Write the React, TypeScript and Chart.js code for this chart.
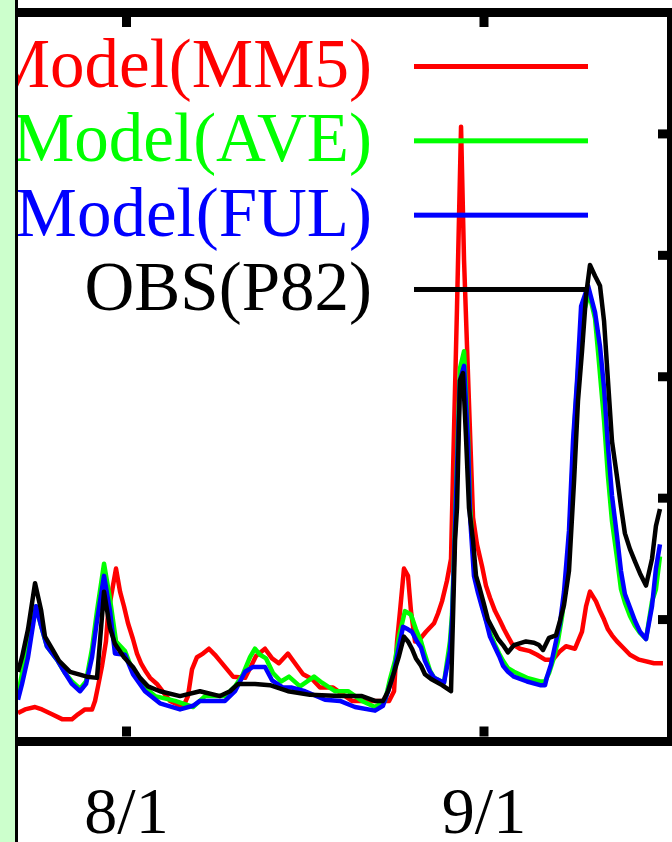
import React, { useEffect, useRef } from "react";
import { Chart, registerables } from "chart.js";

Chart.register(...registerables);

// x values are days counted from 8/1 (0 = 8/1, 31 = 9/1)
const tickDays = [0, 31];
const tickLabels = ["8/1", "9/1"];
const seriesNames = ["Model(MM5)", "Model(AVE)", "Model(FUL)", "OBS(P82)"];

const mm5Days = [-9.41, -8.8, -7.93, -7.33, -6.46, -5.59, -4.73, -4.21, -3.6, -2.99, -2.73, -2.47, -2.12, -1.78, -1.6, -1.34, -0.91, -0.56, -0.22, 0.13, 0.56, 0.91, 1.26, 1.69, 2.04, 2.64, 3.77, 4.9, 5.33, 5.68, 6.11, 6.63, 7.15, 7.67, 8.11, 8.54, 9.24, 10.28, 10.71, 11.23, 12.01, 12.62, 13.22, 14.0, 14.61, 15.31, 16.09, 16.78, 17.91, 19.55, 21.11, 22.77, 23.2, 23.46, 23.72, 24.06, 24.41, 24.67, 25.02, 25.45, 25.97, 26.67, 27.01, 27.36, 27.79, 28.14, 28.31, 28.66, 29.01, 29.27, 29.7, 30.05, 30.39, 30.83, 31.17, 31.52, 31.96, 32.39, 32.74, 33.08, 33.43, 34.12, 34.99, 35.6, 36.29, 36.98, 37.59, 38.11, 38.89, 39.5, 39.85, 40.19, 40.71, 41.06, 41.41, 41.75, 42.1, 42.53, 43.05, 43.66, 44.44, 45.74, 46.52];
const mm5Values = [0.23, 0.26, 0.28, 0.26, 0.22, 0.18, 0.18, 0.22, 0.26, 0.26, 0.33, 0.45, 0.62, 0.82, 1.05, 1.19, 1.42, 1.23, 1.11, 0.97, 0.84, 0.72, 0.64, 0.57, 0.52, 0.47, 0.33, 0.28, 0.37, 0.59, 0.69, 0.72, 0.76, 0.71, 0.66, 0.61, 0.53, 0.52, 0.6, 0.7, 0.76, 0.68, 0.64, 0.72, 0.64, 0.55, 0.51, 0.44, 0.44, 0.33, 0.33, 0.33, 0.41, 0.82, 1.07, 1.42, 1.36, 1.07, 0.82, 0.84, 0.9, 0.97, 1.05, 1.15, 1.32, 1.5, 2.2, 3.57, 5.06, 3.96, 2.78, 1.84, 1.62, 1.44, 1.28, 1.18, 1.07, 0.99, 0.92, 0.86, 0.8, 0.76, 0.74, 0.71, 0.67, 0.67, 0.74, 0.78, 0.76, 0.9, 1.11, 1.23, 1.15, 1.07, 1.0, 0.92, 0.87, 0.82, 0.77, 0.71, 0.67, 0.64, 0.64];

const aveDays = [-9.41, -9.06, -8.54, -7.85, -7.41, -6.9, -6.03, -5.33, -4.73, -4.03, -3.51, -2.99, -2.56, -1.95, -1.43, -0.91, -0.13, 0.56, 1.6, 2.47, 4.21, 5.77, 6.81, 8.54, 9.41, 10.1, 10.71, 11.14, 11.58, 12.1, 12.7, 13.4, 14.09, 15.05, 16.26, 16.95, 18.08, 19.21, 20.42, 21.55, 22.42, 22.85, 23.28, 23.63, 24.15, 24.67, 25.1, 25.54, 25.88, 26.32, 26.67, 27.53, 28.05, 28.23, 28.57, 28.92, 29.27, 29.61, 29.79, 30.13, 30.48, 30.83, 31.17, 31.52, 31.96, 32.31, 32.65, 33.08, 33.6, 34.73, 35.86, 36.29, 36.64, 36.98, 37.41, 37.76, 38.11, 38.46, 38.81, 39.15, 39.5, 40.11, 40.63, 40.97, 41.41, 41.75, 42.1, 42.53, 42.88, 43.22, 43.66, 44.09, 44.53, 45.05, 45.57, 45.91, 46.26];
const aveValues = [0.37, 0.56, 0.82, 1.11, 0.95, 0.78, 0.67, 0.56, 0.49, 0.43, 0.49, 0.76, 1.07, 1.46, 1.17, 0.82, 0.74, 0.57, 0.44, 0.37, 0.33, 0.28, 0.37, 0.37, 0.45, 0.55, 0.69, 0.76, 0.71, 0.68, 0.56, 0.49, 0.53, 0.45, 0.53, 0.48, 0.41, 0.41, 0.33, 0.28, 0.33, 0.51, 0.66, 0.86, 1.07, 1.04, 0.92, 0.82, 0.71, 0.58, 0.52, 0.48, 0.82, 1.05, 2.06, 3.07, 3.21, 2.54, 1.94, 1.44, 1.25, 1.12, 1.0, 0.89, 0.79, 0.72, 0.66, 0.6, 0.57, 0.52, 0.49, 0.49, 0.56, 0.66, 0.82, 1.02, 1.28, 1.81, 2.55, 3.05, 3.48, 3.69, 3.48, 3.12, 2.64, 2.18, 1.81, 1.51, 1.25, 1.14, 1.03, 0.95, 0.89, 0.84, 1.15, 1.25, 1.52];

const fulDays = [-9.41, -9.06, -8.54, -7.85, -7.41, -6.9, -6.03, -5.33, -4.73, -4.03, -3.51, -2.99, -2.56, -1.95, -1.43, -1.0, -0.13, 0.56, 1.6, 2.9, 4.64, 5.77, 6.37, 8.54, 9.41, 10.28, 10.97, 12.01, 12.62, 13.57, 14.35, 15.48, 17.21, 18.51, 19.81, 21.55, 22.24, 22.68, 23.2, 23.63, 23.98, 24.41, 24.75, 25.19, 25.54, 25.88, 26.32, 26.67, 27.53, 28.05, 28.23, 28.57, 28.92, 29.27, 29.61, 29.79, 30.13, 30.48, 30.83, 31.17, 31.52, 31.96, 32.31, 32.65, 33.08, 33.6, 34.73, 35.86, 36.29, 36.47, 36.81, 37.24, 37.59, 37.94, 38.37, 38.72, 39.07, 39.42, 40.02, 40.63, 41.06, 41.41, 41.75, 42.1, 42.53, 42.88, 43.22, 43.66, 44.09, 44.53, 45.05, 45.57, 45.91, 46.26];
const fulValues = [0.34, 0.47, 0.69, 1.11, 0.95, 0.78, 0.67, 0.56, 0.47, 0.41, 0.47, 0.69, 0.99, 1.36, 1.07, 0.72, 0.71, 0.55, 0.41, 0.31, 0.26, 0.29, 0.33, 0.33, 0.41, 0.57, 0.61, 0.61, 0.5, 0.44, 0.44, 0.41, 0.34, 0.33, 0.28, 0.25, 0.29, 0.41, 0.57, 0.78, 0.94, 0.92, 0.9, 0.82, 0.77, 0.66, 0.57, 0.52, 0.48, 0.74, 0.99, 1.98, 2.97, 3.09, 2.46, 1.85, 1.36, 1.22, 1.1, 0.99, 0.86, 0.77, 0.7, 0.62, 0.57, 0.53, 0.49, 0.46, 0.46, 0.53, 0.63, 0.82, 0.97, 1.23, 1.73, 2.47, 2.97, 3.58, 3.75, 3.53, 3.25, 2.91, 2.43, 2.02, 1.69, 1.4, 1.21, 1.1, 0.99, 0.9, 0.84, 1.11, 1.42, 1.62];

const obsDays = [-9.41, -9.06, -8.54, -7.93, -7.41, -7.07, -6.46, -5.85, -4.9, -3.43, -2.56, -2.3, -1.95, -1.43, -1.0, -0.22, 0.56, 1.17, 1.86, 2.9, 4.64, 6.37, 8.11, 8.98, 9.67, 11.14, 12.44, 14.0, 15.91, 18.51, 20.42, 21.55, 22.24, 22.68, 23.02, 23.63, 24.06, 24.41, 24.75, 25.1, 25.54, 25.88, 26.41, 27.36, 28.14, 28.49, 28.66, 28.92, 29.18, 29.44, 29.7, 30.05, 30.31, 30.65, 30.99, 31.34, 31.78, 32.22, 32.65, 33.08, 33.6, 34.64, 35.34, 35.77, 36.12, 36.64, 37.24, 37.59, 37.94, 38.37, 38.81, 39.15, 39.5, 39.85, 40.19, 40.63, 41.06, 41.41, 41.75, 42.1, 42.53, 42.88, 43.22, 43.66, 44.09, 44.53, 45.05, 45.57, 45.91, 46.26];
const obsValues = [0.57, 0.69, 0.92, 1.3, 1.08, 0.86, 0.76, 0.66, 0.57, 0.53, 0.52, 0.82, 1.23, 0.93, 0.8, 0.69, 0.61, 0.52, 0.45, 0.41, 0.37, 0.41, 0.37, 0.41, 0.47, 0.47, 0.46, 0.41, 0.38, 0.37, 0.37, 0.33, 0.33, 0.41, 0.51, 0.7, 0.86, 0.82, 0.76, 0.68, 0.62, 0.55, 0.51, 0.46, 0.41, 1.65, 1.92, 2.97, 3.03, 2.5, 1.92, 1.65, 1.36, 1.25, 1.13, 1.0, 0.92, 0.84, 0.79, 0.73, 0.79, 0.82, 0.81, 0.79, 0.75, 0.85, 0.87, 0.99, 1.12, 1.4, 2.14, 2.8, 3.21, 3.67, 3.92, 3.83, 3.75, 3.46, 2.97, 2.47, 2.18, 1.93, 1.71, 1.58, 1.48, 1.38, 1.28, 1.5, 1.77, 1.91];

const xMin = -10.97;
const xMax = 47.26;
const yMin = 0;
const yMax = 6;

function pairs(days: number[], values: number[]) {
  const n = Math.min(days.length, values.length);
  const out: { x: number; y: number }[] = [];
  for (let i = 0; i < n; i++) out.push({ x: days[i], y: values[i] });
  return out;
}

const FRAME = 9;
const TICK_LEN = 10;

const innerTicksPlugin = {
  id: "innerTicks",
  afterDraw(chart: any) {
    const { ctx, chartArea, scales } = chart;
    ctx.save();
    ctx.fillStyle = "#000";
    const xs = scales.x;
    xs.ticks.forEach((t: any) => {
      const px = xs.getPixelForValue(t.value);
      ctx.fillRect(px - FRAME / 2, chartArea.bottom - FRAME / 2 - TICK_LEN, FRAME, TICK_LEN);
      ctx.fillRect(px - FRAME / 2, chartArea.top + FRAME / 2, FRAME, TICK_LEN);
    });
    const ys = scales.y;
    ys.ticks.forEach((t: any) => {
      if (t.value <= yMin || t.value >= yMax) return;
      const py = ys.getPixelForValue(t.value);
      ctx.fillRect(chartArea.right - FRAME / 2 - 9, py - FRAME / 2, 9, FRAME);
    });
    ctx.restore();
  },
};

const insetLegendPlugin = {
  id: "insetLegend",
  afterDraw(chart: any) {
    const ctx = chart.ctx;
    ctx.save();
    ctx.font = '69px "Liberation Serif"';
    ctx.textAlign = "right";
    ctx.textBaseline = "alphabetic";
    chart.data.datasets.forEach((ds: any, i: number) => {
      const base = 87 + i * 74.33;
      ctx.fillStyle = ds.borderColor;
      ctx.fillText(ds.label, 372, base);
      ctx.fillRect(414, base - 23, 174, 5);
    });
    ctx.restore();
  },
};

export default function App() {
  const ref = useRef<HTMLCanvasElement | null>(null);

  useEffect(() => {
    if (!ref.current) return;
    const lineStyle = {
      borderWidth: 4.5,
      pointRadius: 0,
      tension: 0,
      fill: false,
      borderJoinStyle: "round" as const,
    };
    const chart = new Chart(ref.current, {
      type: "line",
      data: {
        datasets: [
          { label: seriesNames[0], data: pairs(mm5Days, mm5Values), borderColor: "#ff0000", order: 3, ...lineStyle },
          { label: seriesNames[1], data: pairs(aveDays, aveValues), borderColor: "#00ff00", order: 2, ...lineStyle },
          { label: seriesNames[2], data: pairs(fulDays, fulValues), borderColor: "#0000ff", order: 1, ...lineStyle },
          { label: seriesNames[3], data: pairs(obsDays, obsValues), borderColor: "#000000", order: 0, ...lineStyle },
        ],
      },
      options: {
        animation: false,
        responsive: false,
        devicePixelRatio: 1,
        layout: { padding: { left: 0, right: 0.5, top: 12.5, bottom: 0 } },
        plugins: { legend: { display: false }, tooltip: { enabled: false } },
        scales: {
          x: {
            type: "linear",
            position: "bottom",
            min: xMin,
            max: xMax,
            grid: { display: false, drawTicks: false },
            border: { display: true, width: FRAME, color: "#000" },
            afterBuildTicks: (s: any) => {
              s.ticks = tickDays.map((v) => ({ value: v }));
            },
            ticks: {
              display: true,
              color: "#000",
              padding: 46.45,
              autoSkip: false,
              maxRotation: 0,
              font: { family: "Liberation Serif", size: 66, lineHeight: 0.85 },
              callback: (_v: any, i: number) => tickLabels[i],
            },
          },
          xTop: {
            type: "linear",
            position: "top",
            min: xMin,
            max: xMax,
            grid: { display: false, drawTicks: false },
            border: { display: true, width: FRAME, color: "#000" },
            ticks: { display: false },
          },
          y: {
            type: "linear",
            position: "right",
            min: yMin,
            max: yMax,
            grid: { display: false, drawTicks: false },
            border: { display: true, width: FRAME, color: "#000" },
            ticks: { display: false, stepSize: 1 },
          },
        },
      } as any,
      plugins: [innerTicksPlugin, insetLegendPlugin],
    });
    return () => chart.destroy();
  }, []);

  return (
    <div style={{ position: "absolute", left: 0, top: 0, width: 672, height: 842, overflow: "hidden", background: "#fff" }}>
      <canvas ref={ref} width={672} height={890} style={{ display: "block", position: "absolute", left: 0, top: 0 }} />
      <div style={{ position: "absolute", left: 0, top: 0, width: 15, height: 842, background: "#ccffcc" }} />
      <div style={{ position: "absolute", left: 15, top: 0, width: 3, height: 842, background: "#000" }} />
    </div>
  );
}
